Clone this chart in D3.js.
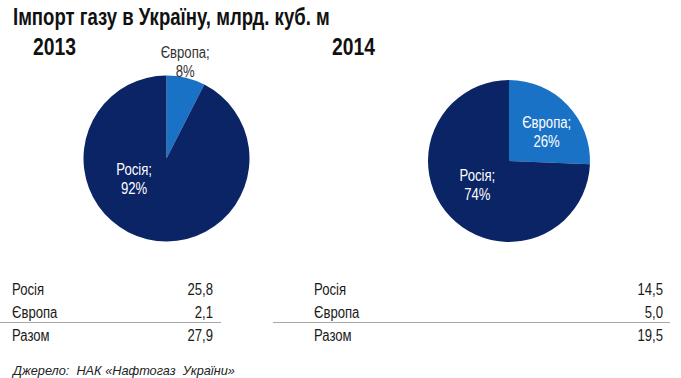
<!DOCTYPE html>
<html><head><meta charset="utf-8">
<script src="https://cdn.jsdelivr.net/npm/d3@7"></script>
<style>
html,body{margin:0;padding:0;background:#fff;}
svg{display:block;}
text{font-family:"Liberation Sans",Arial,sans-serif;white-space:pre;}
</style></head>
<body>
<svg id="chart" width="681" height="378"></svg>
<script>
const title = "Імпорт газу в Україну, млрд. куб. м";
const years = ["2013", "2014"];
const categories = ["Європа", "Росія"];
const values2013 = [2.1, 25.8];
const values2014 = [5.0, 14.5];
const shares2013 = ["8%", "92%"];
const shares2014 = ["26%", "74%"];
const tableLabels = ["Росія", "Європа", "Разом"];
const table2013 = ["25,8", "2,1", "27,9"];
const table2014 = ["14,5", "5,0", "19,5"];
const source = "Джерело:  НАК «Нафтогаз  України»";

const colors = d3.scaleOrdinal().domain(categories).range(["#1a72c6", "#0a2465"]);
const svg = d3.select("#chart");

function txt(parent, x, y, str, o = {}) {
  const sx = o.sx || 0.82;
  const t = parent.append("text")
    .attr("transform", `translate(${x},${y}) scale(${sx},1)`)
    .attr("font-size", o.size || 16)
    .attr("fill", o.fill || "#1a1a1a")
    .attr("text-anchor", o.anchor || "start")
    .text(str);
  if (o.bold) t.attr("font-weight", "bold");
  if (o.italic) t.attr("font-style", "italic");
  return t;
}

txt(svg, 13, 25, title, {size: 23.5, sx: 0.79, bold: true, fill: "#111"});

const panels = [
  {year: years[0], values: values2013, shares: shares2013, table: table2013,
   cx: 166.5, cy: 158.5, r: 83, yearX: 33,
   labels: [{a: 11, k: 1.18, color: "#333"}, {a: 238, k: 0.46, color: "#fff"}],
   tx0: 12, tx1: 213, lx0: 0, lx1: 221},
  {year: years[1], values: values2014, shares: shares2014, table: table2014,
   cx: 509, cy: 161, r: 81, yearX: 332,
   labels: [{a: 52, k: 0.59, color: "#fff"}, {a: 233, k: 0.49, color: "#fff"}],
   tx0: 314, tx1: 663, lx0: 273, lx1: 670}
];

const pie = d3.pie().sort(null).value(d => d.v).startAngle(0).endAngle(2 * Math.PI);

panels.forEach(p => {
  txt(svg, p.yearX, 55, p.year, {size: 23, sx: 0.84, bold: true, fill: "#111"});

  const g = svg.append("g").attr("transform", `translate(${p.cx},${p.cy})`);
  const data = categories.map((c, i) => ({c, v: p.values[i], s: p.shares[i]}));
  const arc = d3.arc().innerRadius(0).outerRadius(p.r);
  g.selectAll("path").data(pie(data)).join("path")
    .attr("d", arc).attr("fill", d => colors(d.data.c));

  data.forEach((d, i) => {
    const L = p.labels[i];
    const ang = L.a * Math.PI / 180;
    const x = Math.sin(ang) * p.r * L.k;
    const y = -Math.cos(ang) * p.r * L.k;
    txt(g, x, y - 4, d.c + ";", {anchor: "middle", fill: L.color});
    txt(g, x, y + 15, d.s, {anchor: "middle", fill: L.color});
  });

  const rowY = d3.scalePoint().domain(tableLabels).range([295, 341]);
  tableLabels.forEach((lab, i) => {
    txt(svg, p.tx0, rowY(lab), lab);
    txt(svg, p.tx1, rowY(lab), p.table[i], {anchor: "end"});
  });
  svg.append("line").attr("x1", p.lx0).attr("x2", p.lx1)
    .attr("y1", 322.5).attr("y2", 322.5).attr("stroke", "#a8a8a8").attr("stroke-width", 1);
});

txt(svg, 13, 375, source, {size: 12.5, sx: 1.02, italic: true, fill: "#222"});
</script>
</body></html>
